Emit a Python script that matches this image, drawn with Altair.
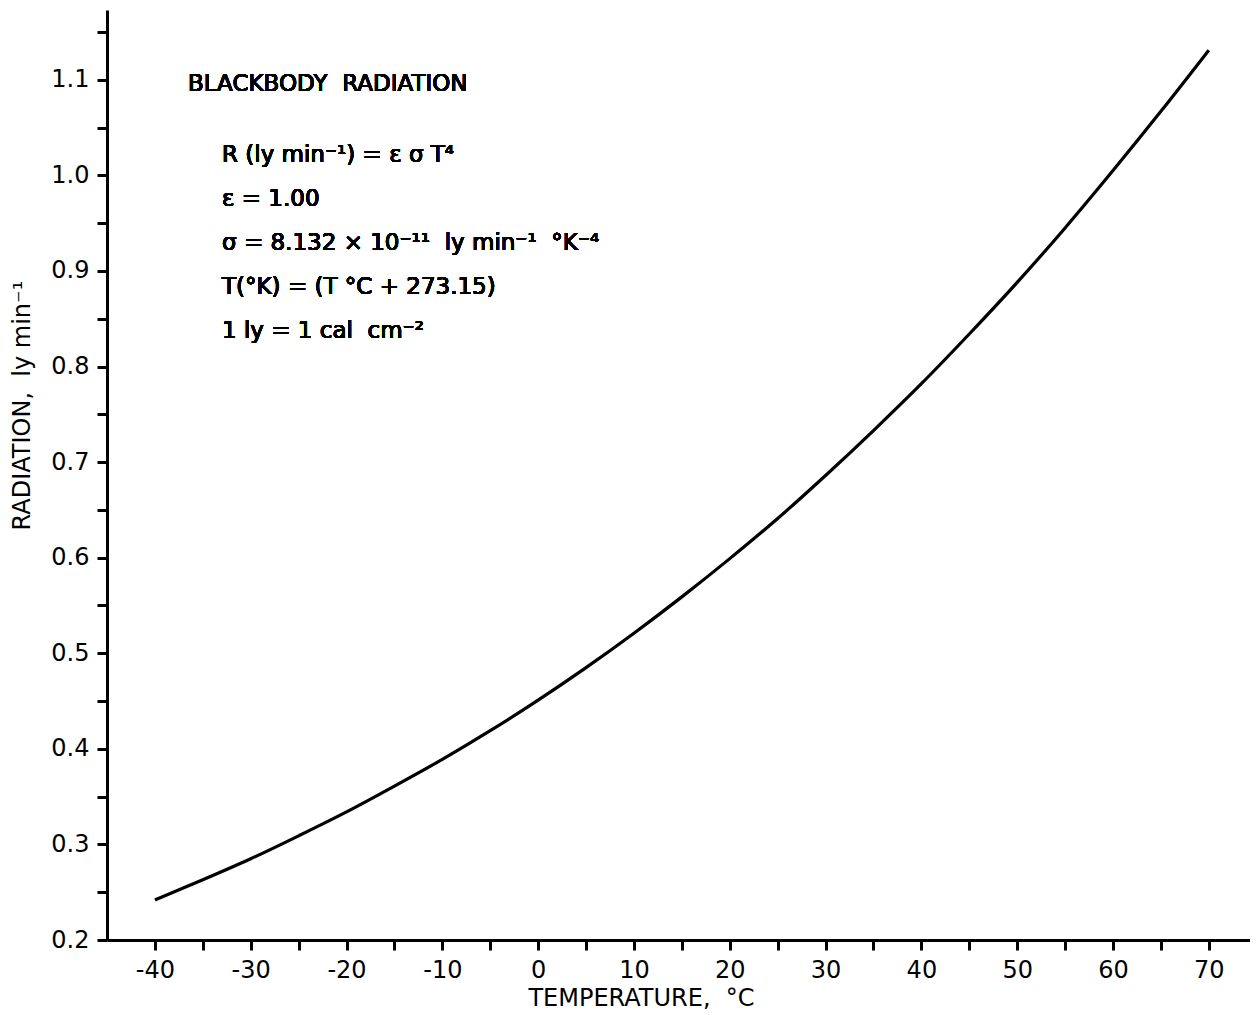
import altair as alt
import pandas as pd

# Temperature (°C) and blackbody radiation (ly min^-1)
temperature = [-40, -35, -30, -25, -20, -15, -10, -5, 0, 5, 10, 15, 20, 25, 30, 35, 40, 45, 50, 55, 60, 65, 70]
radiation = [0.242, 0.263, 0.285, 0.309, 0.334, 0.361, 0.389, 0.419, 0.451, 0.485, 0.521, 0.559,
             0.599, 0.641, 0.686, 0.733, 0.782, 0.834, 0.888, 0.945, 1.005, 1.067, 1.131]

x_ticks = list(range(-40, 75, 5))
y_ticks = [round(0.2 + 0.05 * i, 2) for i in range(20)]

NB = "\u00a0"
title_text = "BLACKBODY" + NB + NB + "RADIATION"
formula_lines = [
    "R (ly min⁻¹) = ε σ T⁴",
    "ε = 1.00",
    "σ = 8.132 × 10⁻¹¹" + NB + NB + "ly min⁻¹" + NB + NB + "°K⁻⁴",
    "T(°K) = (T °C + 273.15)",
    "1 ly = 1 cal" + NB + NB + "cm⁻²",
]

df = pd.DataFrame({"T": temperature, "R": radiation})
FONT = "DejaVu Sans"

line = alt.Chart(df).mark_line(color="black", strokeWidth=3.2, interpolate="monotone").encode(
    x=alt.X("T:Q",
            scale=alt.Scale(domain=[-45, 74.3], nice=False, zero=False),
            axis=alt.Axis(values=x_ticks,
                          labelExpr="datum.value % 10 === 0 ? '' + datum.value : ''",
                          title="TEMPERATURE," + NB + NB + "°C",
                          titleX=534, titleY=58, titleBaseline="middle",
                          labelPadding=8)),
    y=alt.Y("R:Q",
            scale=alt.Scale(domain=[0.2, 1.173], nice=False, zero=False),
            axis=alt.Axis(values=y_ticks,
                          labelExpr="abs(datum.value*10 - round(datum.value*10)) < 0.001 ? format(datum.value, '.1f') : ''",
                          title="RADIATION," + NB + NB + "ly min⁻¹",
                          titleX=-85, titleY=395, titleAngle=270, titleBaseline="middle",
                          labelPadding=8)),
)

title_mark = alt.Chart(df).mark_text(
    text=title_text, font=FONT, fontSize=23, align="left", baseline="middle", color="black"
).encode(x=alt.value(81), y=alt.value(74))

formula_mark = alt.Chart(df).mark_text(
    text=formula_lines, font=FONT, fontSize=23, align="left", baseline="middle",
    lineHeight=44, color="black"
).encode(x=alt.value(115), y=alt.value(145))

chart = alt.layer(line, title_mark, formula_mark).properties(
    width=1143, height=930,
    autosize=alt.AutoSizeParams(type="none"),
    padding={"left": 99, "top": 2, "right": 0, "bottom": 75},
).configure_view(stroke=None).configure_axis(
    grid=False, domainColor="black", domainWidth=3, tickColor="black", tickWidth=3,
    tickSize=10, labelFont=FONT, labelFontSize=24, labelColor="black",
    titleFont=FONT, titleFontSize=24, titleFontWeight="normal", titleColor="black",
    labelFlush=False, labelOverlap=False,
)

chart.save("out.html", embed_options={"renderer": "svg", "actions": False})
